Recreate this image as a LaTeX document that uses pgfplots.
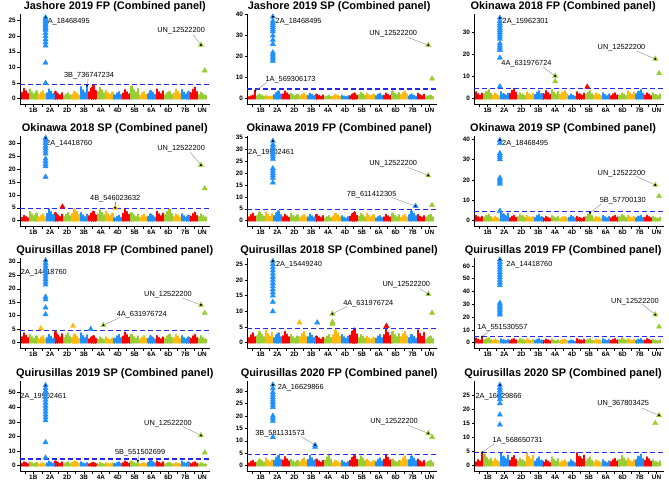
\documentclass[border=0pt]{standalone}
\usepackage{fontspec}
\setmainfont{Liberation Sans}
\usepackage{pgfplots}
\usepackage{pgfplotstable}
\pgfplotsset{compat=1.18}
\definecolor{cR}{HTML}{FF0000}
\definecolor{cG}{HTML}{9ACD32}
\definecolor{cO}{HTML}{FFB90F}
\definecolor{cB}{HTML}{1E90FF}
\definecolor{cT}{HTML}{2626F0}
\newcommand\lab{\fontsize{7.4}{8}\selectfont}

% background per chromosome: k = index, m = colour index, a..d = four local peaks
\pgfplotstableread{
k m a b c d
0 0 1.9 3.2 2.4 1.6
1 1 3.0 2.1 1.5 2.4
2 2 1.3 2.0 2.5 1.5
3 3 1.8 3.0 2.3 1.5
4 0 2.2 1.5 1.1 1.8
5 1 0.9 1.4 1.8 1.1
6 2 1.3 2.2 1.7 1.1
7 3 3.8 2.7 1.9 4.2
8 0 2.1 3.4 4.2 2.5
9 1 2.2 3.6 2.7 1.8
10 2 2.5 1.8 1.3 2.0
11 3 1.1 1.8 2.2 1.3
12 0 1.7 2.8 2.1 1.4
13 1 4.0 2.8 2.0 3.2
14 2 1.1 1.8 2.2 1.3
15 3 1.5 2.5 1.9 1.3
16 0 3.0 2.1 1.5 2.4
17 1 1.1 1.8 2.2 1.3
18 2 1.8 3.0 2.3 1.5
19 3 2.8 2.0 1.4 2.2
20 0 1.8 2.9 3.6 2.2
21 1 1.2 2.0 1.5 1.0
}\tA
\pgfplotstableread{
k m a b c d
0 0 0.8 1.2 1.5 3.8
1 1 1.2 2.0 1.5 1.0
2 2 1.5 1.1 0.8 1.2
3 3 1.8 2.8 3.5 2.1
4 0 2.1 3.5 2.6 1.8
5 1 2.5 1.8 1.3 2.0
6 2 1.3 2.0 2.5 1.5
7 3 1.5 2.5 1.9 1.3
8 0 2.0 1.4 1.0 1.6
9 1 0.8 1.2 1.5 0.9
10 2 1.1 1.8 1.4 0.9
11 3 1.5 1.1 0.8 1.2
12 0 1.3 2.0 2.5 1.5
13 1 1.8 3.0 2.3 1.5
14 2 2.5 1.8 1.3 2.0
15 3 1.3 2.0 2.5 1.5
16 0 1.5 2.5 1.9 1.3
17 1 3.5 2.5 1.8 2.8
18 2 1.8 2.8 3.5 2.1
19 3 1.2 2.0 1.5 1.0
20 0 2.5 1.8 1.3 2.0
21 1 0.8 1.2 1.5 0.9
}\tB
\pgfplotstableread{
k m a b c d
0 0 3.0 2.1 1.5 2.4
1 1 2.0 3.2 4.0 2.4
2 2 1.5 2.5 1.9 1.3
3 3 3.0 2.1 1.5 2.4
4 0 2.3 3.6 4.5 2.7
5 1 1.5 2.5 1.9 1.3
6 2 3.0 2.1 1.5 2.4
7 3 1.8 2.8 3.5 2.1
8 0 2.1 3.5 2.6 1.8
9 1 4.0 2.8 2.0 3.2
10 2 1.8 2.8 3.5 2.1
11 3 1.2 2.0 1.5 1.0
12 0 3.0 2.1 1.5 2.4
13 1 1.8 2.8 3.5 2.1
14 2 1.5 2.5 1.9 1.3
15 3 2.5 1.8 1.3 2.0
16 0 1.3 2.0 2.5 1.5
17 1 1.5 2.5 1.9 1.3
18 2 3.5 2.5 1.8 2.8
19 3 2.0 3.2 4.0 2.4
20 0 1.5 2.5 1.9 1.3
21 1 2.5 1.8 1.3 2.0
}\tC
\pgfplotstableread{
k m a b c d
0 0 1.2 2.0 1.5 1.0
1 1 3.5 2.5 1.8 2.8
2 2 1.3 2.0 2.5 1.5
3 3 2.7 4.5 3.4 2.3
4 0 3.0 2.1 1.5 2.4
5 1 1.5 2.4 3.0 1.8
6 2 2.7 4.5 3.4 2.3
7 3 3.0 2.1 1.5 2.4
8 0 1.8 2.8 3.5 2.1
9 1 2.5 4.2 3.2 2.1
10 2 3.5 2.5 1.8 2.8
11 3 1.0 1.6 2.0 1.2
12 0 2.7 4.5 3.4 2.3
13 1 3.0 2.1 1.5 2.4
14 2 1.3 2.0 2.5 1.5
15 3 1.5 2.5 1.9 1.3
16 0 3.5 2.5 1.8 2.8
17 1 2.2 3.4 4.3 2.6
18 2 1.5 2.5 1.9 1.3
19 3 2.5 1.8 1.3 2.0
20 0 1.6 2.6 3.2 1.9
21 1 1.5 2.5 1.9 1.3
}\tD
\pgfplotstableread{
k m a b c d
0 0 1.5 2.4 3.0 1.8
1 1 2.1 3.5 2.6 1.8
2 2 3.5 2.5 1.8 2.8
3 3 2.0 3.2 4.0 2.4
4 0 1.5 2.5 1.9 1.3
5 1 3.0 2.1 1.5 2.4
6 2 1.3 2.0 2.5 1.5
7 3 1.5 2.5 1.9 1.3
8 0 2.5 1.8 1.3 2.0
9 1 1.0 1.6 2.0 1.2
10 2 1.8 3.0 2.3 1.5
11 3 2.0 1.4 1.0 1.6
12 0 1.8 2.8 3.5 2.1
13 1 1.8 3.0 2.3 1.5
14 2 3.0 2.1 1.5 2.4
15 3 1.0 1.6 2.0 1.2
16 0 1.5 2.5 1.9 1.3
17 1 3.0 2.1 1.5 2.4
18 2 1.3 2.0 2.5 1.5
19 3 2.4 4.0 3.0 2.0
20 0 2.5 1.8 1.3 2.0
21 1 1.3 2.0 2.5 1.5
}\tE
\pgfplotstableread{
k m a b c d
0 0 2.5 1.8 1.3 2.0
1 1 1.5 2.4 3.0 1.8
2 2 1.2 2.0 1.5 1.0
3 3 4.5 3.2 2.3 3.6
4 0 1.3 2.0 2.5 1.5
5 1 1.8 3.0 2.3 1.5
6 2 2.5 1.8 1.3 2.0
7 3 1.5 2.4 3.0 1.8
8 0 1.2 2.0 1.5 1.0
9 1 2.5 1.8 1.3 2.0
10 2 1.0 1.6 2.0 1.2
11 3 1.5 2.5 1.9 1.3
12 0 2.0 1.4 1.0 1.6
13 1 2.0 3.2 3.9 2.4
14 2 1.2 2.0 1.5 1.0
15 3 2.5 1.8 1.3 2.0
16 0 1.3 2.0 2.5 1.5
17 1 1.8 3.0 2.3 1.5
18 2 2.5 1.8 1.3 2.0
19 3 1.3 2.0 2.5 1.5
20 0 1.5 2.5 1.9 1.3
21 1 2.0 1.4 1.0 1.6
}\tF
\pgfplotstableread{
k m a b c d
0 0 2.1 3.5 2.6 1.8
1 1 3.0 2.1 1.5 2.4
2 2 1.3 2.0 2.5 1.5
3 3 1.8 3.0 2.3 1.5
4 0 4.0 2.8 2.0 3.2
5 1 1.8 2.8 3.5 2.1
6 2 1.8 3.0 2.3 1.5
7 3 3.5 2.5 1.8 2.8
8 0 1.3 2.0 2.5 1.5
9 1 1.2 2.0 1.5 1.0
10 2 2.0 1.4 1.0 1.6
11 3 1.5 2.4 3.0 1.8
12 0 2.3 3.8 2.9 1.9
13 1 3.0 2.1 1.5 2.4
14 2 1.3 2.0 2.5 1.5
15 3 1.5 2.5 1.9 1.3
16 0 2.5 1.8 1.3 2.0
17 1 1.5 2.4 3.0 1.8
18 2 1.8 3.0 2.3 1.5
19 3 2.5 1.8 1.3 2.0
20 0 1.5 2.4 3.0 1.8
21 1 1.5 2.5 1.9 1.3
}\tG
\pgfplotstableread{
k m a b c d
0 0 1.5 2.4 3.0 1.8
1 1 2.1 3.5 2.6 1.8
2 2 4.0 2.8 2.0 3.2
3 3 1.5 2.4 3.0 1.8
4 0 2.1 3.5 2.6 1.8
5 1 2.5 1.8 1.3 2.0
6 2 1.8 2.8 3.5 2.1
7 3 1.8 3.0 2.3 1.5
8 0 2.0 1.4 1.0 1.6
9 1 1.3 2.0 2.5 1.5
10 2 2.4 4.0 3.0 2.0
11 3 2.5 1.8 1.3 2.0
12 0 2.3 3.6 4.5 2.7
13 1 1.5 2.5 1.9 1.3
14 2 2.0 1.4 1.0 1.6
15 3 1.3 2.0 2.5 1.5
16 0 2.5 4.2 3.2 2.1
17 1 3.5 2.5 1.8 2.8
18 2 1.8 2.8 3.5 2.1
19 3 1.5 2.5 1.9 1.3
20 0 4.0 2.8 2.0 3.2
21 1 1.0 1.6 2.0 1.2
}\tH
\pgfplotstableread{
k m a b c d
0 0 3.5 2.5 1.8 4.7
1 1 1.8 2.8 3.5 2.1
2 2 1.5 2.5 1.9 1.3
3 3 3.0 2.1 1.5 2.4
4 0 1.5 2.4 3.0 1.8
5 1 1.8 3.0 2.3 1.5
6 2 3.0 2.1 1.5 2.4
7 3 1.5 2.4 3.0 1.8
8 0 1.5 2.5 1.9 1.3
9 1 2.5 1.8 1.3 2.0
10 2 1.3 2.0 2.5 1.5
11 3 1.2 2.0 1.5 1.0
12 0 3.0 2.1 1.5 2.4
13 1 1.5 2.4 3.0 1.8
14 2 1.5 2.5 1.9 1.3
15 3 3.0 2.1 1.5 2.4
16 0 1.5 2.4 3.0 1.8
17 1 2.1 3.5 2.6 1.8
18 2 3.0 2.1 1.5 2.4
19 3 1.5 2.4 3.0 1.8
20 0 1.8 3.0 2.3 1.5
21 1 2.5 1.8 1.3 2.0
}\tI
\pgfplotstableread{
k m a b c d
0 0 1.5 2.5 1.9 1.3
1 1 2.5 1.8 1.3 2.0
2 2 1.0 1.6 2.0 1.2
3 3 1.8 3.0 2.3 1.5
4 0 3.0 2.1 1.5 2.4
5 1 1.3 2.0 2.5 1.5
6 2 1.8 3.0 2.3 1.5
7 3 2.5 1.8 1.3 2.0
8 0 1.0 1.6 2.0 1.2
9 1 1.2 2.0 1.5 1.0
10 2 2.0 1.4 1.0 1.6
11 3 1.3 2.0 2.5 1.5
12 0 1.8 3.0 2.3 1.5
13 1 3.0 2.1 1.5 3.5
14 2 1.0 1.6 2.0 1.2
15 3 2.1 3.5 2.6 1.8
16 0 3.0 2.1 1.5 2.4
17 1 1.0 1.6 2.0 1.2
18 2 1.2 2.0 1.5 1.0
19 3 3.0 2.1 1.5 2.4
20 0 1.3 2.0 2.5 1.5
21 1 1.2 2.0 1.5 1.0
}\tJ
\pgfplotstableread{
k m a b c d
0 0 1.0 1.6 2.0 1.2
1 1 1.5 2.5 1.9 1.3
2 2 3.0 2.1 1.5 2.4
3 3 2.0 3.2 4.0 2.4
4 0 2.1 3.5 2.6 1.8
5 1 2.5 1.8 1.3 2.0
6 2 1.5 2.4 3.0 1.8
7 3 2.4 4.0 3.0 2.0
8 0 2.5 1.8 1.3 2.0
9 1 2.1 3.4 4.2 2.5
10 2 1.2 2.0 1.5 1.0
11 3 2.0 1.4 1.0 1.6
12 0 2.0 3.2 4.0 2.4
13 1 2.3 3.8 2.9 1.9
14 2 2.5 1.8 1.3 2.0
15 3 1.5 2.4 3.0 1.8
16 0 2.5 4.2 3.2 2.1
17 1 2.5 1.8 1.3 2.0
18 2 1.9 3.0 3.8 2.3
19 3 2.3 3.8 2.9 1.9
20 0 2.5 1.8 1.3 2.0
21 1 1.0 1.6 2.0 1.2
}\tK
\pgfplotstableread{
k m a b c d
0 0 1.2 2.0 1.5 4.7
1 1 4.0 2.8 2.0 2.5
2 2 1.5 2.5 1.9 1.3
3 3 4.5 3.2 2.3 3.6
4 0 1.8 2.8 3.5 2.1
5 1 1.5 2.5 1.9 1.3
6 2 4.5 3.2 2.3 3.6
7 3 1.5 2.4 3.0 1.8
8 0 1.2 2.0 1.5 1.0
9 1 3.0 2.1 1.5 2.4
10 2 1.0 1.6 2.0 1.2
11 3 1.2 2.0 1.5 1.0
12 0 4.5 3.2 2.3 3.6
13 1 1.5 2.4 3.0 1.8
14 2 1.2 2.0 1.5 1.0
15 3 2.0 1.4 1.0 1.6
16 0 1.3 2.0 2.5 1.5
17 1 2.1 3.5 2.6 1.8
18 2 2.5 1.8 1.3 2.0
19 3 2.0 3.2 4.0 2.4
20 0 1.8 3.0 2.3 1.5
21 1 2.0 1.4 1.0 1.6
}\tL

\pgfplotsset{
 every axis title shift=0pt,
 mh/.style={
  scale only axis, width=190bp, height=90bp,
  xmin=-0.6, xmax=21.9,
  axis x line*=bottom, axis y line*=left,
  axis line style={line width=0.5bp, black},
  xtick={0,...,21},
  xticklabels={,1B,,2A,,2D,,3B,,4A,,4D,,5B,,6A,,6D,,7B,,UN},
  tick align=outside,
  major tick length=2.5bp,
  tick style={line width=0.5bp, black},
  ticklabel style={font=\fontsize{6.4}{7}\selectfont\bfseries},
  /pgf/number format/assume math mode=true,
  xticklabel style={inner sep=1.5bp},
  yticklabel style={inner sep=1.5bp},
  title style={font=\fontsize{11}{13}\selectfont\bfseries, at={(0.5,1)}, anchor=base, yshift=4.6bp, inner sep=0pt},
  clip=false,
  anchor=south west,
 },
 c1/.style={mh, title style={xshift=0bp}},
 c2/.style={mh, title style={xshift=-3bp}},
 c3/.style={mh, title style={xshift=-6bp}},
}

\newcommand\bgone[3]{%
 \addplot[ycomb, draw=#3, line width=2.3bp, line cap=round, no marks, forget plot, restrict expr to domain={\thisrow{m}}{#2:#2}] table[x expr=\thisrow{k}-0.375, y=a] {#1};
 \addplot[ycomb, draw=#3, line width=2.3bp, line cap=round, no marks, forget plot, restrict expr to domain={\thisrow{m}}{#2:#2}] table[x expr=\thisrow{k}-0.125, y=b] {#1};
 \addplot[ycomb, draw=#3, line width=2.3bp, line cap=round, no marks, forget plot, restrict expr to domain={\thisrow{m}}{#2:#2}] table[x expr=\thisrow{k}+0.125, y=c] {#1};
 \addplot[ycomb, draw=#3, line width=2.3bp, line cap=round, no marks, forget plot, restrict expr to domain={\thisrow{m}}{#2:#2}] table[x expr=\thisrow{k}+0.375, y=d] {#1};
}
\newcommand\bg[1]{\bgone{#1}{0}{cR}\bgone{#1}{1}{cG}\bgone{#1}{2}{cO}\bgone{#1}{3}{cB}}
\newcommand\thr{\addplot[cT, line width=1.3bp, dash pattern=on 5bp off 3bp, forget plot] coordinates {(-0.6,4.6) (21.9,4.6)};}
\newcommand\tri[2]{\addplot[only marks, mark=triangle*, mark size=3bp, color=#1, forget plot] coordinates {#2};}
\newcommand\dotp[1]{\addplot[only marks, mark=*, mark size=0.75bp, black, forget plot] coordinates {#1};}
\newcommand\lead[1]{\addplot[gray, line width=0.35bp, forget plot] coordinates {#1};}

\begin{document}
\begin{tikzpicture}
\useasboundingbox (0,0) rectangle (669bp,-483bp);

% ---------- Row 1 ----------
\begin{axis}[c1, at={(19.8bp,-104bp)}, ymin=-1.69, ymax=27.1, ytick={0,5,...,25}, title={Jashore 2019 FP (Combined panel)}]
\bg{\tA}
\thr
\tri{cB}{(2.45,26)(2.45,25.5)(2.45,25)(2.45,24.5)(2.45,24)(2.45,23.5)(2.45,23)(2.45,22.5)(2.45,22)(2.45,21)(2.45,20)(2.45,19)(2.45,18)(2.45,17)(2.45,11.5)(2.45,5)}
\tri{cG}{(20.85,17.2)(21.3,9)}
\lead{(19.9,20.5)(20.85,17.2)}
\lead{(7.5,6.3)(7.375,4.2)}
\dotp{(2.45,26)(20.85,17.2)(7.375,4.2)}
\node[font=\lab] at (axis cs:4.95,24.7) {2A\_18468495};
\node[font=\lab] at (axis cs:18.5,21.8) {UN\_12522200};
\node[font=\lab] at (axis cs:7.6,7.3) {3B\_736747234};
\end{axis}

\begin{axis}[c2, at={(247.1bp,-104bp)}, ymin=-2.52, ymax=40.3, ytick={0,10,...,40}, title={Jashore 2019 SP (Combined panel)}]
\bg{\tB}
\thr
\tri{cB}{(2.45,39)(2.45,37)(2.45,36)(2.45,35)(2.45,34)(2.45,33)(2.45,32)(2.45,30)(2.45,28)(2.45,26)(2.45,22)(2.45,21)(2.45,20)(2.45,19)(2.45,18)}
\tri{cG}{(20.85,25.5)(21.3,9.5)}
\lead{(18.4,29.2)(20.85,25.5)}
\lead{(1.8,7.9)(0.375,3.8)}
\dotp{(2.45,39)(20.85,25.5)(0.375,3.8)}
\node[font=\lab] at (axis cs:5.5,36.8) {2A\_18468495};
\node[font=\lab] at (axis cs:16.7,30.8) {UN\_12522200};
\node[font=\lab] at (axis cs:4.55,9.0) {1A\_569306173};
\end{axis}

\begin{axis}[c3, at={(474.1bp,-104bp)}, ymin=-2.39, ymax=38.3, ytick={0,10,...,30}, title={Okinawa 2018 FP (Combined panel)}]
\bg{\tC}
\thr
\tri{cB}{(2.45,36.5)(2.45,35)(2.45,34)(2.45,33)(2.45,32)(2.45,31)(2.45,30)(2.45,29)(2.45,28)(2.45,27)(2.45,25)(2.45,24)(2.45,23)(2.45,22)(2.45,18.5)(2.45,5.5)}
\tri{cG}{(9.0,10.3)(9.0,7.8)(20.85,18)(21.3,11.5)}
\tri{cR}{(12.8,5.3)}
\lead{(18.6,21.6)(20.85,18)}
\lead{(7.6,14.2)(9.0,10.3)}
\dotp{(2.45,36.5)(20.85,18)(9.0,10.3)}
\node[font=\lab] at (axis cs:5.5,35) {2A\_15962301};
\node[font=\lab] at (axis cs:16.85,23.2) {UN\_12522200};
\node[font=\lab] at (axis cs:5.6,15.7) {4A\_631976724};
\end{axis}

% ---------- Row 2 ----------
\begin{axis}[c1, at={(19.8bp,-226bp)}, ymin=-2.05, ymax=32.8, ytick={0,5,...,30}, title={Okinawa 2018 SP (Combined panel)}]
\bg{\tD}
\thr
\tri{cB}{(2.45,32)(2.45,31)(2.45,30)(2.45,29)(2.45,28)(2.45,27)(2.45,26)(2.45,24)(2.45,23)(2.45,22)(2.45,21)(2.45,17)}
\tri{cG}{(20.85,21.5)(21.3,12.5)}
\tri{cO}{(10.7,5.0)}
\tri{cR}{(4.45,5.4)}
\lead{(19.6,26.4)(20.85,21.5)}
\lead{(10.7,7.4)(10.7,5.0)}
\dotp{(2.45,32)(20.85,21.5)(10.7,5.0)}
\node[font=\lab] at (axis cs:5.25,30) {2A\_14418760};
\node[font=\lab] at (axis cs:18.5,27.8) {UN\_12522200};
\node[font=\lab] at (axis cs:10.7,8.4) {4B\_546023632};
\end{axis}

\begin{axis}[c2, at={(247.1bp,-226bp)}, ymin=-2.23, ymax=35.6, ytick={0,5,...,35}, title={Okinawa 2019 FP (Combined panel)}]
\bg{\tE}
\thr
\tri{cB}{(2.45,33.5)(2.45,32)(2.45,31)(2.45,30)(2.45,29)(2.45,28)(2.45,27)(2.45,26)(2.45,22)(2.45,21)(2.45,20)(2.45,19)(2.45,18)(2.45,16)(19.35,6.1)}
\tri{cG}{(20.85,19)(21.3,6.5)}
\lead{(18.4,22.4)(20.85,19)}
\lead{(16.5,9.8)(19.35,6.1)}
\dotp{(2.45,33.5)(20.85,19)(19.35,6.1)}
\node[font=\lab] at (axis cs:2.25,28.7) {2A\_19902461};
\node[font=\lab] at (axis cs:16.7,23.8) {UN\_12522200};
\node[font=\lab] at (axis cs:14.15,11.0) {7B\_611412305};
\end{axis}

\begin{axis}[c3, at={(474.1bp,-226bp)}, ymin=-2.59, ymax=41.5, ytick={0,10,...,40}, title={Okinawa 2019 SP (Combined panel)}]
\bg{\tF}
\thr
\tri{cB}{(2.45,39.5)(2.45,38)(2.45,33)(2.45,32)(2.45,31)(2.45,30)(2.45,21)(2.45,20)(2.45,19)(2.45,18)(2.45,4.8)}
\tri{cG}{(20.85,17.5)(21.3,12)}
\lead{(18.6,21.8)(20.85,17.5)}
\lead{(14.5,8.3)(13.125,3.9)}
\dotp{(2.45,39.5)(20.85,17.5)(13.125,3.9)}
\node[font=\lab] at (axis cs:5.45,37.9) {2A\_18468495};
\node[font=\lab] at (axis cs:16.85,23.2) {UN\_12522200};
\node[font=\lab] at (axis cs:17.0,9.6) {5B\_57700130};
\end{axis}

% ---------- Row 3 ----------
\begin{axis}[c1, at={(19.8bp,-348bp)}, ymin=-1.96, ymax=31.4, ytick={0,5,...,30}, title={Quirusillas 2018 FP (Combined panel)}]
\bg{\tG}
\thr
\tri{cB}{(2.45,30.5)(2.45,29.5)(2.45,28.5)(2.45,27.5)(2.45,26.5)(2.45,25.5)(2.45,24.5)(2.45,23.5)(2.45,22.5)(2.45,21.5)(2.45,17)(2.45,16)(2.45,13)(2.45,10.5)(7.8,5.0)}
\tri{cO}{(1.9,5.3)(5.7,6.2)}
\tri{cG}{(9.3,6.5)(20.85,14)(21.3,11)}
\lead{(18.7,16.5)(20.85,14)}
\lead{(11.2,9.3)(9.3,6.5)}
\dotp{(2.45,30.5)(20.85,14)(9.3,6.5)}
\node[font=\lab] at (axis cs:2.25,25.9) {2A\_14418760};
\node[font=\lab] at (axis cs:16.95,17.9) {UN\_12522200};
\node[font=\lab] at (axis cs:13.85,10.3) {4A\_631976724};
\end{axis}

\begin{axis}[c2, at={(247.1bp,-348bp)}, ymin=-1.69, ymax=27.0, ytick={0,5,...,25}, title={Quirusillas 2018 SP (Combined panel)}]
\bg{\tH}
\thr
\tri{cB}{(2.45,26)(2.45,25)(2.45,24)(2.45,23)(2.45,22)(2.45,21)(2.45,20)(2.45,19)(2.45,18)(2.45,17)(2.45,16)(2.45,15)(2.45,13)(2.45,10)(7.7,6.4)}
\tri{cO}{(5.6,6.4)}
\tri{cG}{(9.5,9.2)(9.5,6.6)(9.5,6.0)(20.85,15.5)(21.3,9.5)}
\tri{cR}{(15.9,5.3)}
\lead{(19.8,17.3)(20.85,15.5)}
\lead{(11.2,11.5)(9.5,9.2)}
\dotp{(2.45,26)(20.85,15.5)(9.5,9.2)}
\node[font=\lab] at (axis cs:5.55,25) {2A\_15449240};
\node[font=\lab] at (axis cs:18.25,18.6) {UN\_12522200};
\node[font=\lab] at (axis cs:13.75,12.6) {4A\_631976724};
\end{axis}

\begin{axis}[c3, at={(474.1bp,-348bp)}, ymin=-4.14, ymax=66.2, ytick={0,10,...,60}, title={Quirusillas 2019 FP (Combined panel)}]
\bg{\tI}
\thr
\tri{cB}{(2.45,65)(2.45,63)(2.45,61)(2.45,59)(2.45,57)(2.45,55)(2.45,53)(2.45,51)(2.45,49)(2.45,47)(2.45,45)(2.45,31)(2.45,29.5)(2.45,28)(2.45,26.5)(2.45,25)(2.45,23.5)(2.45,22)}
\tri{cG}{(20.85,22)(21.3,12.5)}
\lead{(19.3,30)(20.85,22)}
\lead{(1.2,9.5)(0.375,4.7)}
\dotp{(2.45,65)(20.85,22)(0.375,4.7)}
\node[font=\lab] at (axis cs:5.95,60.7) {2A\_14418760};
\node[font=\lab] at (axis cs:18.45,32) {UN\_12522200};
\node[font=\lab] at (axis cs:2.75,12) {1A\_551530557};
\end{axis}

% ---------- Row 4 ----------
\begin{axis}[c1, at={(19.8bp,-471bp)}, ymin=-3.6, ymax=58, ytick={0,10,...,50}, title={Quirusillas 2019 SP (Combined panel)}]
\bg{\tJ}
\thr
\tri{cB}{(2.45,55)(2.45,53)(2.45,51)(2.45,49)(2.45,47)(2.45,45)(2.45,43)(2.45,41)(2.45,39)(2.45,37)(2.45,35)(2.45,33)(2.45,31)(2.45,16)(2.45,5.5)}
\tri{cG}{(20.85,20.8)(21.3,9)}
\lead{(18.7,26.8)(20.85,20.8)}
\lead{(13.5,7.2)(13.375,3.5)}
\dotp{(2.45,55)(20.85,20.8)(13.375,3.5)}
\node[font=\lab] at (axis cs:2.2,47.2) {2A\_19902461};
\node[font=\lab] at (axis cs:16.95,28.8) {UN\_12522200};
\node[font=\lab] at (axis cs:13.65,9.2) {5B\_551502699};
\end{axis}

\begin{axis}[c2, at={(247.1bp,-471bp)}, ymin=-2.13, ymax=34.0, ytick={0,5,...,30}, title={Quirusillas 2020 FP (Combined panel)}]
\bg{\tK}
\thr
\tri{cB}{(2.45,32.5)(2.45,31)(2.45,29.5)(2.45,28.5)(2.45,27.5)(2.45,26.5)(2.45,25.5)(2.45,24.5)(2.45,23.5)(2.45,20)(2.45,19)(2.45,18)(2.45,11.5)(7.45,8.3)(7.45,7.5)}
\tri{cG}{(20.85,13)(21.3,11.5)}
\lead{(18.5,16.2)(20.85,13)}
\lead{(5.8,11.7)(7.45,8.3)}
\dotp{(2.45,32.5)(20.85,13)(7.45,8.3)}
\node[font=\lab] at (axis cs:5.75,31.3) {2A\_16629866};
\node[font=\lab] at (axis cs:16.8,17.7) {UN\_12522200};
\node[font=\lab] at (axis cs:3.3,13) {3B\_581131573};
\end{axis}

\begin{axis}[c3, at={(474.1bp,-471bp)}, ymin=-1.87, ymax=29.9, ytick={0,5,...,30}, title={Quirusillas 2020 SP (Combined panel)}]
\bg{\tL}
\thr
\tri{cB}{(2.45,28.5)(2.45,27.5)(2.45,26.5)(2.45,25.5)(2.45,24.5)(2.45,23.5)(2.45,22)(2.45,18)(2.45,14.5)}
\tri{cG}{(21.3,17.8)(20.85,15)}
\lead{(19.2,20.4)(21.3,17.8)}
\lead{(1.8,7.8)(0.375,4.7)}
\dotp{(2.45,28.5)(21.3,17.8)(0.375,4.7)}
\node[font=\lab] at (axis cs:2.3,24.4) {2A\_16629866};
\node[font=\lab] at (axis cs:17.05,21.8) {UN\_367803425};
\node[font=\lab] at (axis cs:4.55,8.8) {1A\_568650731};
\end{axis}
\end{tikzpicture}
\end{document}
